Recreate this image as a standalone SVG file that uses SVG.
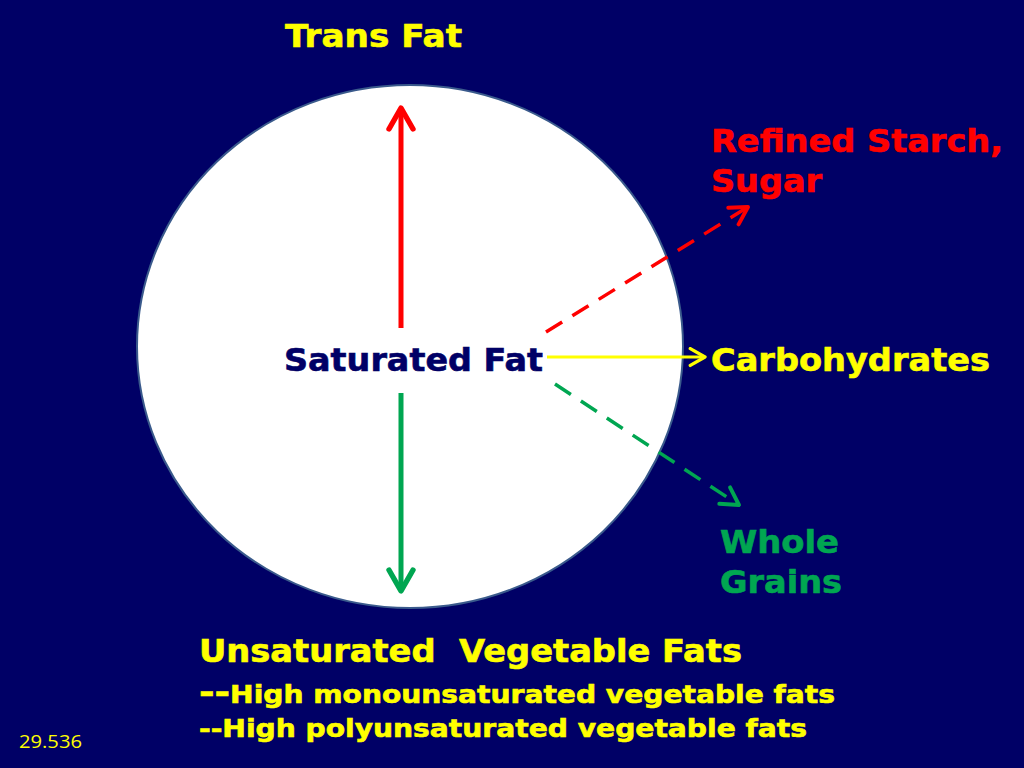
<svg xmlns="http://www.w3.org/2000/svg" width="1024" height="768" viewBox="0 0 1024 768">
<style>
.t{font-family:"DejaVu Sans",Verdana,sans-serif;font-weight:bold;stroke-width:0.6;}
.y{fill:#ffff00;stroke:#ffff00;}
.r{fill:#ff0000;stroke:#ff0000;}
.g{fill:#00a651;stroke:#00a651;}
.n{fill:#000066;stroke:#000066;}
</style>
<defs>
<marker id="arR" viewBox="0 0 10 10" refX="8" refY="5" markerWidth="6" markerHeight="6" orient="auto" markerUnits="strokeWidth"><path d="M1,1 L8,5 L1,9" fill="none" stroke="#ff0000" stroke-width="1.8" stroke-linecap="round" stroke-linejoin="round"/></marker>
<marker id="arG" viewBox="0 0 10 10" refX="8" refY="5" markerWidth="6" markerHeight="6" orient="auto" markerUnits="strokeWidth"><path d="M1,1 L8,5 L1,9" fill="none" stroke="#00a651" stroke-width="1.8" stroke-linecap="round" stroke-linejoin="round"/></marker>
<marker id="arRd" viewBox="0 0 10 10" refX="8" refY="5" markerWidth="7" markerHeight="7" orient="auto" markerUnits="strokeWidth"><path d="M1,1 L8,5 L1,9" fill="none" stroke="#ff0000" stroke-width="1.6" stroke-linecap="round" stroke-linejoin="round"/></marker>
<marker id="arGd" viewBox="0 0 10 10" refX="8" refY="5" markerWidth="7" markerHeight="7" orient="auto" markerUnits="strokeWidth"><path d="M1,1 L8,5 L1,9" fill="none" stroke="#00a651" stroke-width="1.6" stroke-linecap="round" stroke-linejoin="round"/></marker>
<marker id="arY" viewBox="0 0 10 10" refX="8" refY="5" markerWidth="7" markerHeight="7" orient="auto" markerUnits="strokeWidth"><path d="M1,1 L8,5 L1,9" fill="none" stroke="#ffff00" stroke-width="1.6" stroke-linecap="round" stroke-linejoin="round"/></marker>
</defs>
<rect width="1024" height="768" fill="#000066"/>
<g id="circle">
<ellipse cx="410" cy="346.5" rx="273" ry="261.5" fill="#ffffff" stroke="#3a5a8c" stroke-width="2"/>
</g>
<g id="connectors" fill="none">
<line x1="401" y1="328" x2="401" y2="108" stroke="#ff0000" stroke-width="5" marker-end="url(#arR)"/>
<line x1="401" y1="393" x2="401" y2="591" stroke="#00a651" stroke-width="5" marker-end="url(#arG)"/>
<line x1="546" y1="332" x2="748" y2="207" stroke="#ff0000" stroke-width="3.5" stroke-dasharray="19,12" marker-end="url(#arRd)"/>
<line x1="555" y1="384" x2="739" y2="505" stroke="#00a651" stroke-width="3.5" stroke-dasharray="19,12" marker-end="url(#arGd)"/>
<line x1="547" y1="357" x2="705" y2="357" stroke="#ffff00" stroke-width="3" marker-end="url(#arY)"/>
</g>
<g id="trans-fat"><text class="t y" x="285" y="47" font-size="32" textLength="177" lengthAdjust="spacingAndGlyphs">Trans Fat</text></g>
<g id="refined"><text class="t r" x="711" y="152" font-size="32" textLength="292" lengthAdjust="spacingAndGlyphs">Refined Starch,</text><text class="t r" x="711" y="192" font-size="32" textLength="111" lengthAdjust="spacingAndGlyphs">Sugar</text></g>
<g id="saturated"><text class="t n" x="284" y="371" font-size="32" textLength="259" lengthAdjust="spacingAndGlyphs">Saturated Fat</text></g>
<g id="carbs"><text class="t y" x="711" y="371" font-size="32" textLength="279" lengthAdjust="spacingAndGlyphs">Carbohydrates</text></g>
<g id="whole"><text class="t g" x="720" y="553" font-size="32" textLength="119" lengthAdjust="spacingAndGlyphs">Whole</text><text class="t g" x="720" y="593" font-size="32" textLength="122" lengthAdjust="spacingAndGlyphs">Grains</text></g>
<g id="unsat">
<text class="t y" x="199" y="662" font-size="32" xml:space="preserve" textLength="543" lengthAdjust="spacingAndGlyphs">Unsaturated  Vegetable Fats</text>
<text class="t y" x="199" y="703" font-size="24" textLength="636" lengthAdjust="spacingAndGlyphs"><tspan font-size="32">--</tspan>High monounsaturated vegetable fats</text>
<text class="t y" x="199" y="737" font-size="24" textLength="608" lengthAdjust="spacingAndGlyphs">--High polyunsaturated vegetable fats</text>
</g>
<text x="19" y="748" font-family="'Open Sans','Liberation Sans',sans-serif" font-size="18" fill="#ffff00" textLength="63" lengthAdjust="spacingAndGlyphs">29.536</text>
</svg>
